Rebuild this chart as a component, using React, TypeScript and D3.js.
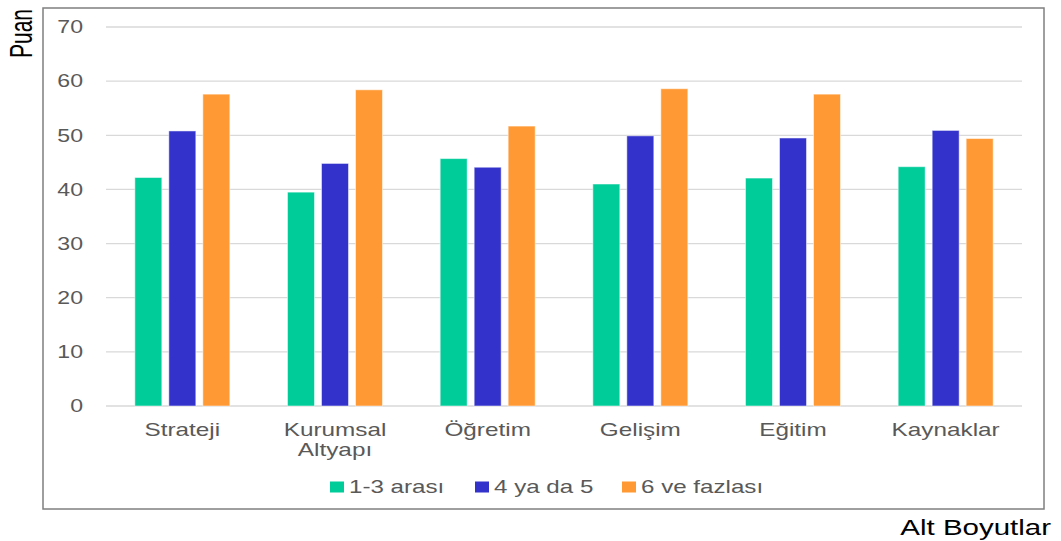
import React from "react";
import * as d3 from "d3";

const categories = ["Strateji", "Kurumsal\nAltyapı", "Öğretim", "Gelişim", "Eğitim", "Kaynaklar"];
const seriesNames = ["1-3 arası", "4 ya da 5", "6 ve fazlası"];
const s1 = [42.2, 39.5, 45.7, 41.0, 42.1, 44.2];
const s2 = [50.8, 44.8, 44.1, 49.9, 49.5, 50.9];
const s3 = [57.6, 58.4, 51.7, 58.6, 57.6, 49.4];
const yTicks = [0, 10, 20, 30, 40, 50, 60, 70];
const colors = ["#00CC99", "#3333CC", "#FF9933"];

export default function App() {
  const W = 1061, H = 541;
  const left = 106, right = 1022, top = 27, bottom = 406;
  const x = d3.scaleBand<number>().domain(d3.range(categories.length)).range([left, right]).padding(0);
  const y = d3.scaleLinear().domain([0, 70]).range([bottom, top]);
  const series = [s1, s2, s3];
  const barW = 27, step = 34;
  const font = "'Liberation Sans', Arial, sans-serif";
  const legendX = [330, 475, 622];
  const sx = 1.32;
  return (
    <svg width={W} height={H} style={{ position: "absolute", left: 0, top: 0, background: "#fff" }} fontFamily={font}>
      <rect x={43} y={8} width={1001} height={501} fill="none" stroke="#7f7f7f" strokeWidth={1.5} />
      {yTicks.map(t => (
        <g key={t}>
          <line x1={left} x2={right} y1={y(t)} y2={y(t)} stroke="#d9d9d9" strokeWidth={1.3} />
          <text transform={`translate(83,${y(t) + 6.3}) scale(${sx},1)`} textAnchor="end" fontSize={17.5} fill="#595959">{t}</text>
        </g>
      ))}
      {categories.map((c, i) => {
        const cx = x(i)! + x.bandwidth() / 2;
        return (
          <g key={c}>
            {series.map((s, k) => (
              <rect key={k} x={cx + (k - 1) * step - barW / 2} y={y(s[i])} width={barW} height={y(0) - y(s[i])}
                fill={colors[k]} stroke="#ffffff" strokeOpacity={0.5} strokeWidth={1} />
            ))}
            {c.split("\n").map((line, j) => (
              <text key={j} transform={`translate(${cx},${435.5 + j * 20}) scale(1.28,1)`} textAnchor="middle" fontSize={19} fill="#595959">{line}</text>
            ))}
          </g>
        );
      })}
      {seriesNames.map((n, k) => (
        <g key={n}>
          <rect x={legendX[k]} y={481.5} width={14} height={11} fill={colors[k]} />
          <text transform={`translate(${legendX[k] + 19},${492.7}) scale(1.38,1)`} fontSize={17.5} fill="#595959">{n}</text>
        </g>
      ))}
      <text transform="translate(32,33.5) rotate(-90) scale(1,1.45)" textAnchor="middle" fontSize={21} fill="#000">Puan</text>
      <text transform={`translate(1051,535) scale(1.34,1)`} textAnchor="end" fontSize={22} fill="#000">Alt Boyutlar</text>
    </svg>
  );
}
